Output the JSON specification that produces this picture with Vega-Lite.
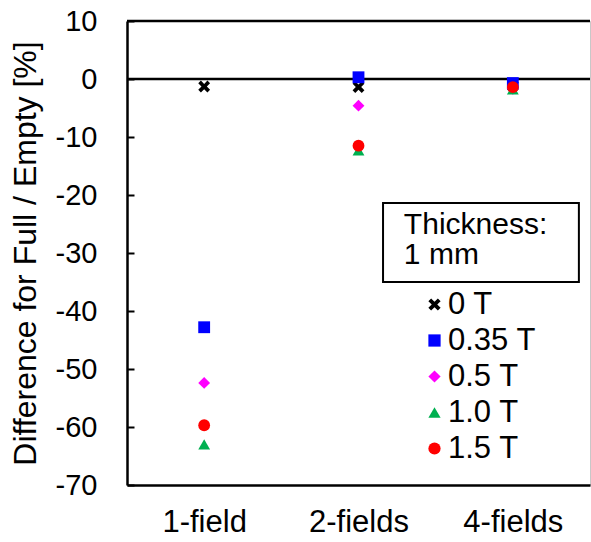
{
  "$schema": "https://vega.github.io/schema/vega-lite/v6.json",
  "width": 463,
  "height": 464,
  "autosize": {"type": "none"},
  "padding": {"left": 127, "top": 21, "right": 1, "bottom": 57},
  "background": "white",
  "config": {
    "font": "Liberation Sans",
    "view": {"stroke": "#c8c8c8", "strokeWidth": 1}
  },
  "datasets": {
    "pts": [
      {"config": "1-field", "field": "0 T", "diff": -1.3},
      {"config": "1-field", "field": "0.35 T", "diff": -42.8},
      {"config": "1-field", "field": "0.5 T", "diff": -52.4},
      {"config": "1-field", "field": "1.0 T", "diff": -63.0},
      {"config": "1-field", "field": "1.5 T", "diff": -59.7},
      {"config": "2-fields", "field": "0 T", "diff": -1.4},
      {"config": "2-fields", "field": "0.35 T", "diff": 0.3},
      {"config": "2-fields", "field": "0.5 T", "diff": -4.6},
      {"config": "2-fields", "field": "1.0 T", "diff": -12.3},
      {"config": "2-fields", "field": "1.5 T", "diff": -11.5},
      {"config": "4-fields", "field": "0 T", "diff": -1.2},
      {"config": "4-fields", "field": "0.35 T", "diff": -0.7},
      {"config": "4-fields", "field": "0.5 T", "diff": -1.7},
      {"config": "4-fields", "field": "1.0 T", "diff": -1.8},
      {"config": "4-fields", "field": "1.5 T", "diff": -1.4}
    ],
    "box": [{"x1": 0.553, "x2": 0.976, "y1": -21.4, "y2": -35.0, "tx": 0.598, "ty": -25.2, "label": "Thickness:\n1 mm"}],
    "lines": [{"v": 0}, {"v": 10}]
  },
  "layer": [
    {
      "data": {"name": "lines"},
      "mark": {"type": "rule", "color": "black", "strokeWidth": 2.5},
      "encoding": {
        "y": {"field": "v", "type": "quantitative", "scale": {"domain": [-70, 10]}}
      }
    },
    {
      "data": {"name": "pts"},
      "mark": {"type": "point", "filled": true, "size": 140, "opacity": 1},
      "encoding": {
        "x": {
          "field": "config", "type": "nominal", "sort": ["1-field", "2-fields", "4-fields"],
          "scale": {"paddingInner": 0, "paddingOuter": 0},
          "axis": {
            "title": null, "labelAngle": 0, "labelFontSize": 31, "labelColor": "black",
            "ticks": false, "labelPadding": 22, "domainColor": "black", "domainWidth": 2.5
          }
        },
        "y": {
          "field": "diff", "type": "quantitative",
          "scale": {"domain": [-70, 10], "nice": false, "zero": false},
          "axis": {
            "title": "Difference for Full / Empty [%]",
            "titleFontSize": 32, "titleFontWeight": "normal", "titleColor": "black", "titlePadding": 13,
            "values": [10, 5, 0, -5, -10, -15, -20, -25, -30, -35, -40, -45, -50, -55, -60, -65, -70],
            "labelExpr": "datum.value % 10 == 0 ? toString(datum.value) : ''",
            "labelFontSize": 29, "labelColor": "black", "labelPadding": 37,
            "tickSize": -7, "tickColor": "black", "tickWidth": 2,
            "domainColor": "black", "domainWidth": 2.5, "grid": false
          }
        },
        "color": {
          "field": "field", "type": "nominal",
          "scale": {"domain": ["0 T", "0.35 T", "0.5 T", "1.0 T", "1.5 T"], "range": ["#000000", "#0000ff", "#ff00ff", "#00b050", "#ff0000"]},
          "legend": {
            "title": null, "orient": "none", "legendX": 292, "legendY": 268,
            "labelFontSize": 31, "labelColor": "black", "labelOffset": -2,
            "symbolSize": 150, "rowPadding": 4, "padding": 0, "symbolStrokeWidth": 0
          }
        },
        "shape": {
          "field": "field", "type": "nominal",
          "scale": {"domain": ["0 T", "0.35 T", "0.5 T", "1.0 T", "1.5 T"], "range": ["M-0.55,-1L0,-0.45L0.55,-1L1,-0.55L0.45,0L1,0.55L0.55,1L0,0.45L-0.55,1L-1,0.55L-0.45,0L-1,-0.55Z", "square", "diamond", "triangle-up", "circle"]},
          "legend": null
        }
      }
    },
    {
      "data": {"name": "box"},
      "mark": {"type": "rect", "fill": "white", "stroke": "black", "strokeWidth": 2},
      "encoding": {
        "x": {"field": "x1", "type": "quantitative", "scale": {"domain": [0, 1]}, "axis": null},
        "x2": {"field": "x2"},
        "y": {"field": "y1", "type": "quantitative"},
        "y2": {"field": "y2"}
      }
    },
    {
      "data": {"name": "box"},
      "mark": {"type": "text", "align": "left", "baseline": "middle", "fontSize": 30, "lineHeight": 30, "lineBreak": "\n", "color": "black"},
      "encoding": {
        "x": {"field": "tx", "type": "quantitative", "scale": {"domain": [0, 1]}, "axis": null},
        "y": {"field": "ty", "type": "quantitative"},
        "text": {"field": "label"}
      }
    }
  ],
  "resolve": {"scale": {"x": "independent"}}
}
